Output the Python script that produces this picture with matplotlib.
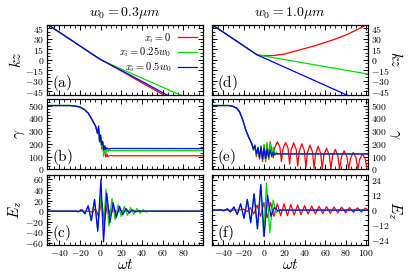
import numpy as np
import matplotlib as mpl
import matplotlib.pyplot as plt
from matplotlib.ticker import MultipleLocator, FuncFormatter
mpl.use('Agg')

# ---- data ----
labels = [r'$x_i = 0$', r'$x_i = 0.25w_0$', r'$x_i = 0.5w_0$']
colors = ['#ff0000', '#00dd00', '#0000ff']
titles = [r'$w_0 = 0.3\mu m$', r'$w_0 = 1.0\mu m$']

# (a) kz, w0 = 0.3
a_red_t = [-52, -2, 0, 20, 40, 62]
a_red_v = [51, 2, 0.3, -16, -33, -51]
a_green_t = [-52, -2, 0, 20, 40, 78]
a_green_v = [51, 2, -0.3, -13.3, -26.3, -51]
a_blue_t = [-52, -2, 0, 20, 40, 65]
a_blue_v = [51, 2, 0.3, -15.3, -31, -51]

# (d) kz, w0 = 1.0
d_red_t = [-52, -7, 0, 10, 20, 35, 50, 68, 80, 90, 102]
d_red_v = [51, 7, 5.5, 6, 8, 14, 20, 28.5, 35, 42, 51]
d_green_t = [-52, -7, 102]
d_green_v = [51, 7, -20.5]
d_blue_t = [-52, -7, 82]
d_blue_v = [51, 7, -51]

# (b) gamma, w0 = 0.3
b_drop_t = [-52, -30, -25, -20, -16, -12, -9, -7, -5, -3.5]
b_drop_v = [500, 500, 497, 488, 470, 440, 400, 370, 340, 300]
b_red_t = [-3, -2, -1, 0, 1, 2, 3, 4, 5, 6, 7, 9, 12, 99]
b_red_v = [285, 320, 215, 250, 160, 210, 120, 150, 95, 120, 100, 108, 106, 106]
b_green_t = [-3, -2, -1, 0, 1, 2, 3, 4, 5, 6, 7, 8, 10, 99]
b_green_v = [280, 330, 210, 260, 170, 200, 100, 175, 120, 160, 140, 150, 146, 146]
b_blue_t = [-3, -2, -1, 0, 1, 2, 3, 4, 5, 6, 8, 10, 99]
b_blue_v = [280, 340, 220, 270, 190, 220, 150, 185, 155, 168, 158, 163, 162]

# (e) gamma, w0 = 1.0
e_drop_t = [-52, -35, -31, -27, -24, -21, -18, -15, -12]
e_drop_v = [500, 500, 495, 480, 450, 390, 310, 250, 200]
e_red_t = [-10.5, -9, -7.5, -6, -4.5, -3, -1.5, 0, 1.5, 3, 4.5, 6,
           9, 10.5, 13, 15.5, 17, 18.5, 21, 23.5, 25, 26.5, 29, 31.5,
           33, 34.5, 37, 39.5, 41, 42.5, 45, 47.5, 49, 50.5, 53, 55.5,
           57, 58.6, 61.2, 63.9, 65.5, 67.2, 69.8, 72.3, 74, 75.8, 78.5, 81.2,
           83, 84.8, 87.5, 90.2, 92, 93.8, 96.5, 99.2, 101]
e_red_v = [150, 175, 100, 165, 80, 180, 60, 190, 60, 200, 75, 215,
           90, 170, 215, 175, 60, 160, 210, 165, 40, 150, 207, 155,
           25, 140, 200, 145, 15, 130, 190, 135, 8, 120, 180, 125,
           4, 110, 165, 112, 2, 105, 155, 105, 0, 95, 145, 97,
           0, 88, 132, 88, 0, 80, 120, 80, 0]
e_green_t = [-10.5, -9, -7.5, -6, -4.5, -3, -1.5, 0, 1.5, 3, 4.5, 6, 7.5, 9, 10.5, 12, 13.5, 15, 102]
e_green_v = [150, 180, 110, 175, 90, 185, 70, 195, 70, 210, 80, 200, 95, 170, 110, 135, 118, 121, 120]
e_blue_t = [-10.5, -9, -7.5, -6, -4.5, -3, -1.5, 0, 1.5, 3, 4.5, 6, 7.5, 9, 10.5, 12, 13.5, 102]
e_blue_v = [160, 190, 120, 170, 95, 175, 80, 165, 85, 160, 95, 150, 105, 135, 115, 123, 120, 120]

# (c) Ez, w0 = 0.3
c_red_t = [-52, -11, -8, -5, -2, 1, 3.5, 6.5, 9.5, 12.5, 15.5, 18.5, 22, 99]
c_red_v = [0, 0, -2, 5, -10, 20, -20, 12, -8, 5, -3, 1.5, 0, 0]
c_green_t = [-52, -24, -21.4, -18.3, -15.2, -12.1, -9.0, -5.9, -2.8, 0.3, 2.8, 5.2, 8.0, 11.0,
             14.0, 17.0, 20.0, 23.0, 26.0, 29.0, 32.0, 35.0, 38.0, 41.0, 44.0, 47.0, 99]
c_green_v = [0, 0, -1, 3, -5, 10, -18, 22, -36, 30, -30, 42, -28, 24,
             -16, 12, -10, 9, -8, 7, -6, 5, -4, 3, -1.5, 0, 0]
c_blue_t = [-52, -24, -21.4, -18.3, -15.2, -12.1, -9.0, -5.9, -2.8, 0.3, 2.8, 5.9, 9.0, 12.1,
            15.2, 18.3, 21.4, 24.5, 27.6, 30.7, 33.8, 36.9, 40.0, 43.0, 99]
c_blue_v = [0, 0, -1, 3, -5, 10, -18, 22, -38, 60, -58, 34, -22, 16,
            -12, 9, -7, 5, -3.5, 2.5, -1.5, 1, -0.5, 0, 0]

# (f) Ez, w0 = 1.0
f_red_t = [-52, -25, -20, -16.7, -13.4, -10.1, -6.8, -3.5, -0.2, 3.1, 6.4, 9.7, 13, 16.3,
           19.6, 22.9, 26.2, 29.5, 32.9, 36.3, 39.7, 43.2, 46.7, 50.3, 53.9, 57.5, 61.2,
           64.9, 68.6, 72.3, 76.1, 79.9, 83.7, 87.6, 91.5, 95.4, 99.3, 102]
f_red_v = [0, 0, 0.8, -1.2, 2, -3, 4, -5, 6, -6, 6, -5, 5, -4.5,
           5, -4.5, 4.5, -4, 4, -3.5, 3.5, -3.2, 3.2, -3, 3, -2.7, 2.8,
           -2.5, 2.5, -2.2, 2.3, -2, 2, -1.8, 1.8, -1.6, 1.6, 0]
f_green_t = [-52, -46, -42.8, -39.5, -36.2, -32.9, -29.6, -26.3, -23.0, -19.7, -16.4, -13.1,
             -9.8, -6.5, -3.2, -0.5, 2.3, 5.6, 8.9, 12.0, 15.0, 17.0, 102]
f_green_v = [0, 0, 0.3, -0.5, 1, -1.5, 2.5, -3.5, 5, -6.5, 8.5, -10,
             13, -15, 20, -21, 21.5, -18, 8, -2, 0.5, 0, 0]
f_blue_t = [-52, -46, -42.8, -39.5, -36.2, -32.9, -29.6, -26.3, -23.0, -19.7, -16.4, -13.1,
            -9.8, -6.5, -3.2, 0.1, 3.4, 6.7, 10.0, 13.3, 16.0, 102]
f_blue_v = [0, 0, 0.3, -0.5, 1, -1.5, 2.5, -3.5, 5, -6.5, 8.5, -10,
            13, -15, 20.5, -21, 12, -5, 2, -0.5, 0, 0]

plt.rcParams.update({'font.size': 7, 'mathtext.fontset': 'cm', 'font.family': 'DejaVu Serif'})

math_fmt = FuncFormatter(lambda v, pos: r'$%d$' % round(v))

fig = plt.figure(figsize=(4.15, 2.77), dpi=100)
lefts = [0.113, 0.511]
width = 0.376
bottoms = [0.658, 0.389, 0.115]
height = 0.253

panels = [
    [  # left column
        ([a_red_t, a_green_t, a_blue_t], [a_red_v, a_green_v, a_blue_v]),
        ([b_drop_t + b_red_t, b_drop_t + b_green_t, b_drop_t + b_blue_t],
         [b_drop_v + b_red_v, b_drop_v + b_green_v, b_drop_v + b_blue_v]),
        ([c_red_t, c_green_t, c_blue_t], [c_red_v, c_green_v, c_blue_v]),
    ],
    [  # right column
        ([d_red_t, d_green_t, d_blue_t], [d_red_v, d_green_v, d_blue_v]),
        ([e_drop_t + e_red_t, e_drop_t + e_green_t, e_drop_t + e_blue_t],
         [e_drop_v + e_red_v, e_drop_v + e_green_v, e_drop_v + e_blue_v]),
        ([f_red_t, f_green_t, f_blue_t], [f_red_v, f_green_v, f_blue_v]),
    ],
]
ylabels = [r'$kz$', r'$\gamma$', r'$E_z$']
ylims = [[(-50, 50), (0, 550), (-64, 68)], [(-50, 50), (0, 550), (-28, 28)]]
yticks = [[15, 100, 20], [15, 100, 12]]
yminor = [[5, 25, 5], [5, 25, 4]]
xlims = [(-52, 99), (-51, 102)]
tags = [['(a)', '(b)', '(c)'], ['(d)', '(e)', '(f)']]

for col in range(2):
    for row in range(3):
        ax = fig.add_axes([lefts[col], bottoms[row], width, height])
        ts, vs = panels[col][row]
        for i in range(3):
            ax.plot(ts[i], vs[i], color=colors[i], lw=0.9, label=labels[i])
        ax.set_xlim(xlims[col])
        ax.set_ylim(ylims[col][row])
        ax.xaxis.set_major_locator(MultipleLocator(20))
        ax.xaxis.set_minor_locator(MultipleLocator(5))
        ax.yaxis.set_major_locator(MultipleLocator(yticks[col][row]))
        ax.yaxis.set_minor_locator(MultipleLocator(yminor[col][row]))
        ax.xaxis.set_major_formatter(math_fmt)
        ax.yaxis.set_major_formatter(math_fmt)
        ax.tick_params(which='both', direction='in', top=True, right=True, pad=2)
        ax.tick_params(which='major', length=3.5, width=0.7)
        ax.tick_params(which='minor', length=2, width=0.6)
        for s in ax.spines.values():
            s.set_linewidth(0.9)
        if row < 2:
            ax.set_xticklabels([])
        else:
            ax.set_xlabel(r'$\omega t$', fontsize=11, labelpad=0)
        if col == 1:
            ax.yaxis.tick_right()
            ax.tick_params(which='both', left=True)
            ax.yaxis.set_label_position('right')
            ax.set_ylabel(ylabels[row], fontsize=11, rotation=270, labelpad=10)
        else:
            ax.set_ylabel(ylabels[row], fontsize=11, labelpad=1)
        ax.text(0.03, 0.03, r'$\mathrm{%s}$' % tags[col][row], transform=ax.transAxes,
                fontsize=11, ha='left', va='bottom')
        if row == 0:
            ax.set_title(titles[col], fontsize=10, pad=6)
        if col == 0 and row == 0:
            ax.legend(loc='upper right', frameon=False, markerfirst=False, fontsize=7.5,
                      handlelength=1.8, labelspacing=0.1, borderaxespad=0.2, handletextpad=0.6)

plt.savefig('out.png', dpi=100)
plt.close()
